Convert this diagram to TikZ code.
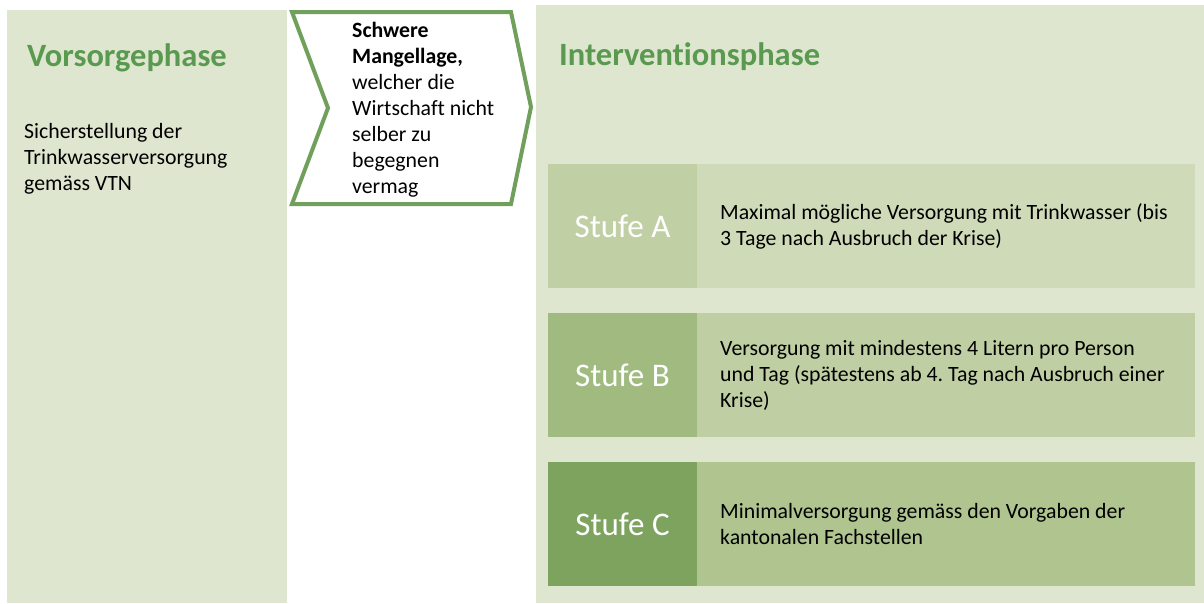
\documentclass[tikz,border=0pt]{standalone}
\usepackage{fontspec}
\setmainfont[Ligatures=NoCommon]{Carlito}
\usetikzlibrary{positioning}
\frenchspacing
\definecolor{phasebg}{HTML}{DFE6CF}
\definecolor{titlegreen}{HTML}{5A9A50}
\definecolor{chevgreen}{HTML}{70A05C}
\definecolor{stufeAl}{HTML}{C0CFA4}
\definecolor{stufeAr}{HTML}{CFDAB9}
\definecolor{stufeBl}{HTML}{A0BA80}
\definecolor{stufeBr}{HTML}{BFCEA3}
\definecolor{stufeCl}{HTML}{7DA35E}
\definecolor{stufeCr}{HTML}{AFC48F}
\tikzset{
  phase/.style={fill=phasebg, inner sep=0pt, outer sep=0pt, anchor=north west},
  phasetitle/.style={text=titlegreen, font=\fontsize{32.5}{36}\selectfont\bfseries, anchor=base west, inner sep=0pt},
  bodytext/.style={font=\fontsize{21.8}{26}\selectfont, align=left, inner sep=0pt},
  stufebox/.style={inner sep=0pt, outer sep=0pt, anchor=north west, minimum height=124pt,
    text=white, font=\fontsize{33}{38}\selectfont},
}
\begin{document}
\begin{tikzpicture}[x=1pt,y=-1pt]
\useasboundingbox (0,0) rectangle (1204,603);

% phases
\node[phase, minimum width=280pt, minimum height=593pt] (vorsorge) at (7,10) {};
\node[phase, minimum width=668pt, minimum height=598pt] (intervention) at (536,5) {};
\node[phasetitle] (lblV) at (27,66) {Vorsorgephase};
\node[phasetitle] (lblI) at (559,65) {Interventionsphase};
\node[bodytext, anchor=north west] (vtext) at (24,123)
  {Sicherstellung der\\Trinkwasserversorgung\\gemäss VTN};

% chevron
\draw[chevgreen, line width=4pt, fill=white, line join=miter]
  (292,12) -- (511,12) -- (531,107) -- (511,204) -- (292,204) -- (328,108) -- cycle;
\node[bodytext, anchor=north west] (chevtext) at (352,22)
  {\textbf{Schwere}\\\textbf{Mangellage,}\\welcher die\\Wirtschaft nicht\\selber zu\\begegnen\\vermag};

% stufen
\node[stufebox, fill=stufeAl, minimum width=149pt] (stufeA) at (548,164) {Stufe A};
\node[stufebox, fill=stufeAr, minimum width=498pt, right=0pt of stufeA] (textA) {};
\node[bodytext, anchor=west] at ([xshift=23pt]textA.west)
  {Maximal mögliche Versorgung mit Trinkwasser (bis\\3 Tage nach Ausbruch der Krise)};

\node[stufebox, fill=stufeBl, minimum width=149pt] (stufeB) at (548,313) {Stufe B};
\node[stufebox, fill=stufeBr, minimum width=498pt, right=0pt of stufeB] (textB) {};
\node[bodytext, anchor=west] at ([xshift=23pt]textB.west)
  {Versorgung mit mindestens 4 Litern pro Person\\und Tag (spätestens ab 4. Tag nach Ausbruch einer\\Krise)};

\node[stufebox, fill=stufeCl, minimum width=149pt] (stufeC) at (548,462) {Stufe C};
\node[stufebox, fill=stufeCr, minimum width=498pt, right=0pt of stufeC] (textC) {};
\node[bodytext, anchor=west] at ([xshift=23pt]textC.west)
  {Minimalversorgung gemäss den Vorgaben der\\kantonalen Fachstellen};

\end{tikzpicture}
\end{document}
